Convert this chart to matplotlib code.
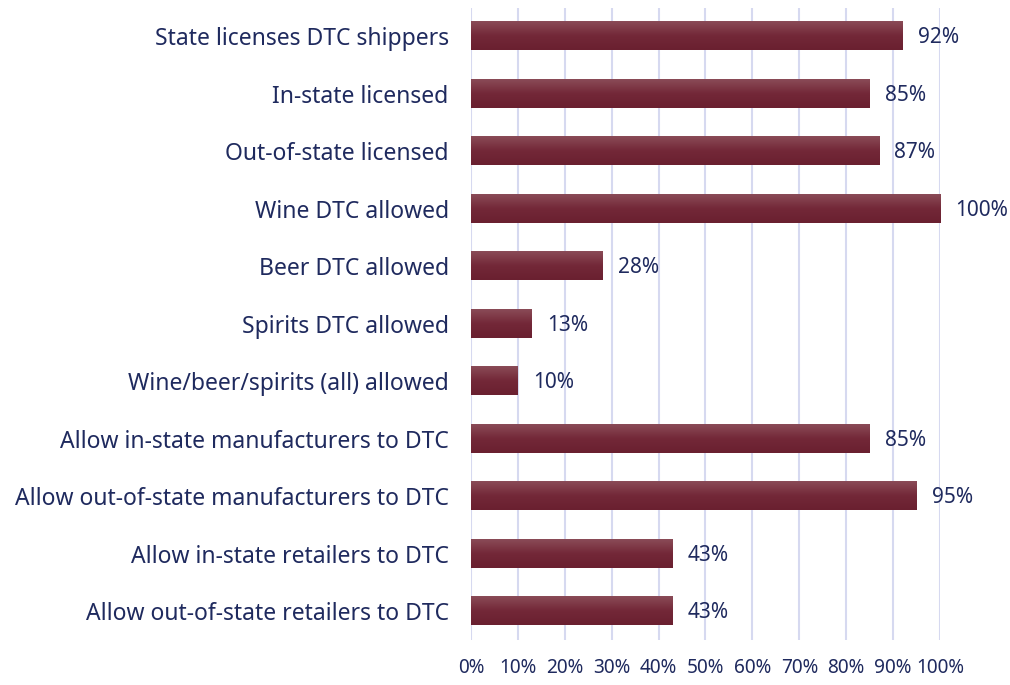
import numpy as np
import matplotlib.pyplot as plt
from matplotlib.colors import LinearSegmentedColormap

categories = [
    "State licenses DTC shippers",
    "In-state licensed",
    "Out-of-state licensed",
    "Wine DTC allowed",
    "Beer DTC allowed",
    "Spirits DTC allowed",
    "Wine/beer/spirits (all) allowed",
    "Allow in-state manufacturers to DTC",
    "Allow out-of-state manufacturers to DTC",
    "Allow in-state retailers to DTC",
    "Allow out-of-state retailers to DTC",
]
values = [92, 85, 87, 100, 28, 13, 10, 85, 95, 43, 43]
xticks = list(range(0, 101, 10))

text_color = "#1F2A5E"
plt.rcParams['font.family'] = ['Noto Sans', 'DejaVu Sans']

fig = plt.figure(figsize=(10.1, 6.85), dpi=100)
ax = fig.add_axes([0.4663, 0.0657, 0.4644, 0.9233])

y = np.arange(len(categories))
bar_h = 0.49
bars = ax.barh(y, values, height=bar_h, color="none", edgecolor="none", zorder=3)

# vertical gradient inside every bar
cmap = LinearSegmentedColormap.from_list("bar", ["#8A4B57", "#732838", "#6A2030"])
grad = np.linspace(0, 1, 64).reshape(-1, 1)
for b in bars:
    x0, y0 = b.get_x(), b.get_y()
    w, h = b.get_width(), b.get_height()
    ax.imshow(grad, cmap=cmap, aspect="auto", origin="upper",
              extent=[x0, x0 + w, y0 + h, y0], zorder=3)

for yi, v in zip(y, values):
    ax.annotate(f"{v}%", (v, yi), xytext=(11, -1), textcoords="offset points",
                va="center", ha="left", fontsize=15, color=text_color)

ax.set_xlim(0, 100)
ax.set_ylim(len(categories) - 0.5, -0.5)
ax.set_xticks(xticks)
ax.set_xticklabels([f"{t}%" for t in xticks])
ax.set_yticks(y)
ax.set_yticklabels(categories)
ax.tick_params(axis="both", length=0, labelcolor=text_color)
ax.tick_params(axis="x", pad=13, labelsize=13.7)
ax.tick_params(axis="y", pad=16, labelsize=16.5)
ax.grid(axis="x", color="#D6D9F0", lw=1.5, zorder=0)
for s in ax.spines.values():
    s.set_visible(False)

fig.savefig("out.png", dpi=100)
